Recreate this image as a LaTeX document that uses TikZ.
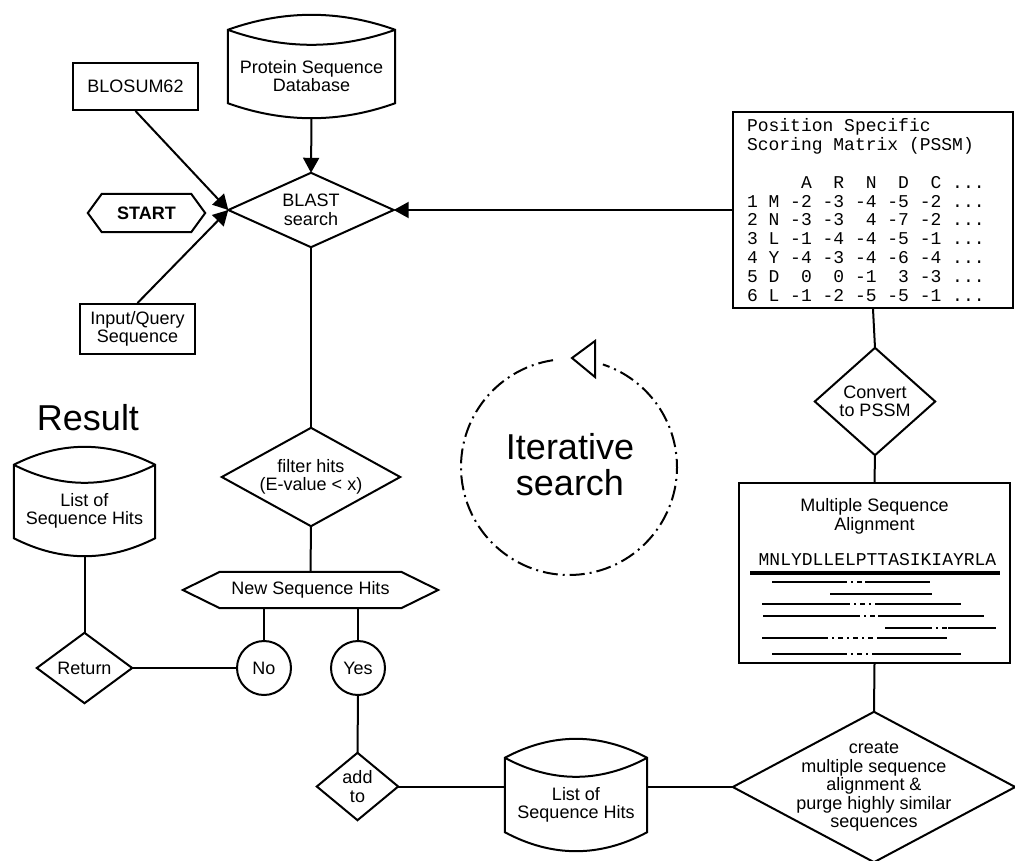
\documentclass[tikz,border=0pt]{standalone}
\usepackage{fontspec}
\setmainfont{Liberation Sans}
\setmonofont{Liberation Mono}
\usetikzlibrary{arrows.meta,calc}

\newcommand\ms{\phantom{0}}
\newcommand\diamondout[1]{\draw[outl] (#1.north) -- (#1.east) -- (#1.south) -- (#1.west) -- cycle;}
\newcommand\hexout[2]{\draw[outl] (#1.west) -- ([xshift=#2]#1.north west) -- ([xshift=-#2]#1.north east) -- (#1.east) -- ([xshift=-#2]#1.south east) -- ([xshift=#2]#1.south west) -- cycle;}
\newcommand\cylout[3]{%
 \draw[outl] let \p1=(#1.north west), \p2=(#1.south east), \n1={(\x2-\x1)/3} in
  ({\x1},{\y1+#2}) .. controls +({\n1*1pt},{4/3*#3}) and +({-\n1*1pt},{4/3*#3}) .. ({\x2},{\y1+#2})
  -- ({\x2},{\y2}) .. controls +({-\n1*1pt},{-4/3*#3}) and +({\n1*1pt},{-4/3*#3}) .. ({\x1},{\y2}) -- cycle
  ({\x1},{\y1+#2}) .. controls +({\n1*1pt},{-4/3*#3}) and +({-\n1*1pt},{-4/3*#3}) .. ({\x2},{\y1+#2});}

\tikzset{
 outl/.style={line width=2pt, line join=miter},
 txt/.style={font=\fontsize{18}{18.5}\selectfont, align=center, inner sep=0pt},
 box/.style={txt, draw, line width=2pt},
 conn/.style={line width=2pt},
 arr/.style={conn, -{Triangle[length=15pt,width=16pt]}},
 circ/.style={txt, circle, draw, line width=2pt, minimum size=54pt},
 big/.style={font=\fontsize{36}{36}\selectfont, align=center, inner sep=0pt},
 mono/.style={font=\ttfamily\fontsize{18}{18.8}\selectfont, align=left, inner sep=0pt},
 seqline/.style={line width=2pt},
 gapline/.style={line width=2pt, dash pattern=on 5pt off 4pt on 2pt off 4pt},
}

\begin{document}
\begin{tikzpicture}[x=1pt,y=-1pt]
\useasboundingbox (0,0) rectangle (1015,860);

% top-left inputs
\node[box, minimum width=125pt, minimum height=47pt] (bl) at (135.5,86.5) {BLOSUM62};
\node[txt, minimum width=117pt, minimum height=38pt, font=\fontsize{18}{18.5}\selectfont\bfseries] (start) at (146.5,213) {START};
\hexout{start}{14pt}
\node[box, minimum width=115pt, minimum height=50pt] (in) at (137.5,329) {Input/Query\\Sequence};

% database cylinder
\node[txt, minimum width=167pt, minimum height=54pt] (db) at (311.5,76) {Protein Sequence\\Database};
\cylout{db}{19pt}{15pt}

% BLAST
\node[txt, minimum width=165pt, minimum height=74pt] (blast) at (311,210) {BLAST\\search};
\diamondout{blast}

% PSSM
\node[draw, line width=2pt, mono, minimum width=280pt, minimum height=196pt, text width=252pt, inner xsep=14pt] (pssm) at (873,210) {Position\ms Specific\\
Scoring\ms Matrix\ms (PSSM)\\
\ms\\
\ms\ms\ms\ms\ms A\ms\ms R\ms\ms N\ms\ms D\ms\ms C\ms ...\\
1\ms M\ms -2\ms -3\ms -4\ms -5\ms -2\ms ...\\
2\ms N\ms -3\ms -3\ms\ms 4\ms -7\ms -2\ms ...\\
3\ms L\ms -1\ms -4\ms -4\ms -5\ms -1\ms ...\\
4\ms Y\ms -4\ms -3\ms -4\ms -6\ms -4\ms ...\\
5\ms D\ms\ms 0\ms\ms 0\ms -1\ms\ms 3\ms -3\ms ...\\
6\ms L\ms -1\ms -2\ms -5\ms -5\ms -1\ms ...};

% Convert
\node[txt, minimum width=120pt, minimum height=107pt] (conv) at (875,401.5) {Convert\\to PSSM};
\diamondout{conv}

% MSA
\node[draw, line width=2pt, minimum width=271pt, minimum height=180pt, inner sep=0pt] (msa) at (874.5,573) {};
\node[txt] (msatitle) at (874.5,516.5) {Multiple Sequence\\Alignment};
\node[mono] (seq) at (877.5,560) {MNLYDLLELPTTASIKIAYRLA};
\draw[line width=4pt] (750,573) -- (1000,573);
\draw[seqline] (772,582) -- (842,582); \draw[gapline] (842,582) -- (865,582); \draw[seqline] (865,582) -- (930,582);
\draw[seqline] (830,594) -- (932,594);
\draw[seqline] (762,604) -- (845,604); \draw[gapline] (845,604) -- (877,604); \draw[seqline] (877,604) -- (961,604);
\draw[seqline] (763,616) -- (855,616); \draw[gapline] (855,616) -- (878,616); \draw[seqline] (878,616) -- (984,616);
\draw[seqline] (885,628) -- (927,628); \draw[gapline] (927,628) -- (948,628); \draw[seqline] (948,628) -- (996,628);
\draw[seqline] (762,638) -- (823,638); \draw[gapline] (823,638) -- (878,638); \draw[seqline] (878,638) -- (947,638);
\draw[seqline] (772,654) -- (842,654); \draw[gapline] (842,654) -- (877,654); \draw[seqline] (877,654) -- (961,654);

% create MSA diamond
\node[txt, minimum width=282pt, minimum height=150pt] (create) at (874,787) {create\\multiple sequence\\alignment \&\\purge highly similar\\sequences};
\diamondout{create}

% bottom list cylinder
\node[txt, minimum width=142pt, minimum height=54pt] (lsh) at (576,805) {List of\\Sequence Hits};
\cylout{lsh}{20pt}{19pt}

% add to
\node[txt, minimum width=81pt, minimum height=67pt] (addto) at (357.5,786.5) {add\\to};
\diamondout{addto}

% yes / no
\node[circ] (yes) at (358,668) {Yes};
\node[circ] (no) at (264,668) {No};

% new sequence hits
\node[txt, minimum width=255pt, minimum height=36pt] (nsh) at (310.5,590) {New Sequence Hits};
\hexout{nsh}{37pt}

% filter
\node[txt, minimum width=178pt, minimum height=98pt] (filter) at (311,477) {filter hits\\(E-value < x)};
\diamondout{filter}

% result
\node[big] (result) at (88,418) {Result};
\node[txt, minimum width=141pt, minimum height=54pt] (res) at (84.5,511) {List of\\Sequence Hits};
\cylout{res}{19pt}{18pt}
\node[txt, minimum width=95pt, minimum height=70pt] (ret) at (84.5,668) {Return};
\diamondout{ret}

% iterative search
\node[big] (iter) at (570,465) {Iterative\\search};
\coordinate (itc) at (569,467);
\draw[line width=2pt, dash pattern=on 15pt off 5pt on 2pt off 5pt] ($(itc)+(98.5:108pt)$) arc[start angle=98.5, end angle=431.7, radius=108pt];
\draw[line width=2pt, fill=white, line join=miter] (572,358) -- (595,341) -- (595,377) -- cycle;

% connectors
\draw[arr] (bl.south) -- (blast.west);
\draw[arr] (in.north) -- (blast.west);
\draw[arr] ([yshift=-15pt]db.south) -- (blast.north);
\draw[arr] (pssm.west) -- (blast.east);
\draw[conn] (blast.south) -- (filter.north);
\draw[conn] (filter.south) -- (nsh.north);
\draw[conn] (no.north |- nsh.south) -- (no.north);
\draw[conn] (yes.north |- nsh.south) -- (yes.north);
\draw[conn] (ret.east) -- (no.west);
\draw[conn] ([yshift=-18pt]res.south) -- (ret.north);
\draw[conn] (yes.south) -- (addto.north);
\draw[conn] (addto.east) -- (addto.east -| lsh.west);
\draw[conn] (create.west -| lsh.east) -- (create.west);
\draw[conn] (pssm.south) -- (conv.north);
\draw[conn] (conv.south) -- (msa.north);
\draw[conn] (msa.south) -- (create.north);
\end{tikzpicture}
\end{document}
